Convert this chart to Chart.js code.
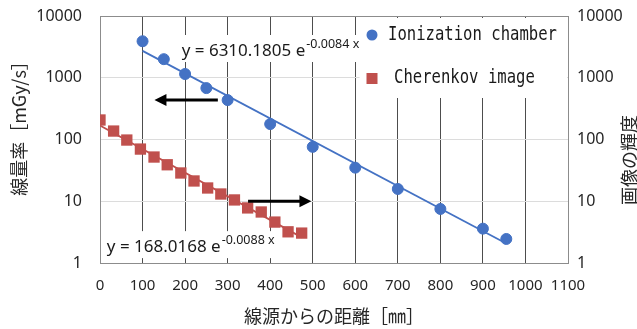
<!DOCTYPE html>
<html>
<head>
<meta charset="utf-8">
<script src="https://cdn.jsdelivr.net/npm/chart.js@4.4.1/dist/chart.umd.min.js"></script>
<style>
  html, body { margin: 0; padding: 0; background: #fff; }
  #wrap { width: 637px; height: 329px; position: relative; }
</style>
</head>
<body>
<div id="wrap"><canvas id="chart"></canvas></div>
<script>
// Ionization chamber (left axis, mGy/s)
const ionX = [100, 150, 200, 250, 300, 400, 500, 600, 700, 800, 900, 955];
const ionY = [3900, 2000, 1150, 680, 435, 178, 76, 35, 15.8, 7.5, 3.6, 2.45];
// Cherenkov image brightness (right axis)
const cherX = [0, 32, 63, 95, 127, 158, 190, 221, 253, 284, 316, 347, 379, 411, 442, 474];
const cherY = [207, 137, 98, 70, 52, 39, 28.7, 21.3, 16.4, 13.1, 10.5, 7.8, 6.7, 4.6, 3.2, 3.05];
// exponential trendlines (straight on the log axis), end points
const ionFitX = [100, 955];
const ionFitY = [2720, 2.07];
const cherFitX = [0, 474];
const cherFitY = [168, 2.6];

const yTicks = [1, 10, 100, 1000, 10000];
const ionEq = ["y = 6310.1805 e", "-0.0084 x"];
const cherEq = ["y = 168.0168 e", "-0.0088 x"];

const BLUE = "#4472C4";
const RED = "#C0504D";

const toPts = (xs, ys) => xs.map((x, i) => ({ x: x, y: ys[i] }));

function drawEq(ctx, px, py, eq) {
  ctx.font = '17px "Noto Sans"';
  const w1 = ctx.measureText(eq[0]).width;
  ctx.font = '12.5px "Noto Sans"';
  const w2 = ctx.measureText(eq[1]).width;
  ctx.fillStyle = "#fff";
  ctx.fillRect(px - 4, py - 21, w1 + w2 + 9, 27);
  ctx.fillStyle = "#1a1a1a";
  ctx.textAlign = "left";
  ctx.textBaseline = "alphabetic";
  ctx.font = '17px "Noto Sans"';
  ctx.fillText(eq[0], px, py);
  ctx.font = '12.5px "Noto Sans"';
  ctx.fillText(eq[1], px + w1 + 1, py - 8);
}

function drawArrow(ctx, x0, x1, y) {
  const dir = x1 > x0 ? 1 : -1;
  ctx.strokeStyle = "#000";
  ctx.fillStyle = "#000";
  ctx.lineWidth = 3;
  ctx.beginPath();
  ctx.moveTo(x0, y);
  ctx.lineTo(x1 - dir * 9, y);
  ctx.stroke();
  ctx.beginPath();
  ctx.moveTo(x1, y);
  ctx.lineTo(x1 - dir * 12, y - 6);
  ctx.lineTo(x1 - dir * 12, y + 6);
  ctx.closePath();
  ctx.fill();
}

const overlay = {
  id: "overlay",
  beforeDatasetsDraw(chart) {
    const { ctx, chartArea: a, scales: { x, y } } = chart;
    ctx.save();
    // legend box hides the grid behind it
    ctx.fillStyle = "#fff";
    const lx = x.getPixelForValue(610);
    ctx.fillRect(lx, a.top + 2, a.right - lx - 1, 80);
    drawEq(ctx, x.getPixelForValue(192), y.getPixelForValue(2250), ionEq);
    drawEq(ctx, x.getPixelForValue(16), y.getPixelForValue(1.5), cherEq);
    ctx.restore();
  },
  afterDatasetsDraw(chart) {
    const { ctx, chartArea: a, scales: { x, y } } = chart;
    ctx.save();
    // arrows pointing to each series' axis
    drawArrow(ctx, x.getPixelForValue(277), x.getPixelForValue(128), y.getPixelForValue(436));
    drawArrow(ctx, x.getPixelForValue(348), x.getPixelForValue(497), y.getPixelForValue(10));

    // legend
    const ds = chart.data.datasets;
    const mx = a.right - 196;
    ctx.fillStyle = ds[0].backgroundColor;
    ctx.beginPath();
    ctx.arc(mx, a.top + 19, 5.5, 0, Math.PI * 2);
    ctx.fill();
    ctx.fillStyle = ds[2].backgroundColor;
    ctx.fillRect(mx - 5.5, a.top + 57, 11, 11);
    ctx.fillStyle = "#1a1a1a";
    ctx.font = '15.6px "DejaVu Sans Mono"';
    ctx.textBaseline = "middle";
    ctx.textAlign = "left";
    const txt = (s, tx, ty) => {
      ctx.save();
      ctx.translate(tx, ty);
      ctx.scale(1, 1.3);
      ctx.fillText(s, 0, 0);
      ctx.restore();
    };
    txt(ds[0].label, mx + 16, a.top + 19);
    txt(ds[2].label, mx + 22, a.top + 62);
    ctx.restore();
  },
  afterDraw(chart) {
    const { ctx, chartArea: a } = chart;
    ctx.save();
    ctx.fillStyle = "#262626";
    ctx.textAlign = "center";
    ctx.textBaseline = "middle";
    ctx.font = '18px "Noto Sans CJK JP"';
    ctx.save();
    ctx.translate(19, 124);
    ctx.rotate(-Math.PI / 2);
    ctx.fillText("線量率［mGy/s］", 0, 0);
    ctx.restore();
    ctx.save();
    ctx.translate(629, 160);
    ctx.rotate(-Math.PI / 2);
    ctx.fillText("画像の輝度", 0, 0);
    ctx.restore();
    ctx.fillText("線源からの距離［㎜］", (a.left + a.right) / 2, 316);
    ctx.restore();
  }
};

const tickFont = { family: "Noto Sans", size: 16 };
const fitY = (w) => (s) => {
  s.width = w;
  s.paddingTop = 0;
  s.paddingBottom = 0;
};

new Chart(document.getElementById("chart"), {
  type: "scatter",
  data: {
    datasets: [
      {
        label: "Ionization chamber",
        data: toPts(ionX, ionY),
        yAxisID: "y",
        backgroundColor: BLUE,
        borderColor: BLUE,
        pointRadius: 5.5,
        pointStyle: "circle",
        order: 1
      },
      {
        label: "Ionization fit",
        data: toPts(ionFitX, ionFitY),
        yAxisID: "y",
        showLine: true,
        borderColor: BLUE,
        borderWidth: 1.8,
        pointRadius: 0,
        order: 2
      },
      {
        label: "Cherenkov image",
        data: toPts(cherX, cherY),
        yAxisID: "y2",
        backgroundColor: RED,
        borderColor: RED,
        pointStyle: "rect",
        pointRadius: 8,
        borderWidth: 0,
        order: 1
      },
      {
        label: "Cherenkov fit",
        data: toPts(cherFitX, cherFitY),
        yAxisID: "y2",
        showLine: true,
        borderColor: RED,
        borderWidth: 1.8,
        pointRadius: 0,
        order: 2
      }
    ]
  },
  options: {
    responsive: true,
    maintainAspectRatio: false,
    animation: false,
    layout: { padding: { top: 16, left: 0, right: 0, bottom: 0 } },
    plugins: { legend: { display: false }, tooltip: { enabled: false } },
    scales: {
      x: {
        type: "linear",
        min: 0,
        max: 1100,
        afterFit: (s) => { s.height = 66; s.paddingLeft = 0; s.paddingRight = 0; },
        ticks: {
          stepSize: 100,
          padding: 14,
          minRotation: 0,
          maxRotation: 0,
          autoSkip: false,
          color: "#262626",
          font: { family: "Noto Sans", size: 15 },
          callback: (v) => String(v)
        },
        grid: {
          drawTicks: false,
          color: (c) => (c.tick.value === 0 || c.tick.value === 1100 ? "#8c8c8c" : "#4d4d4d")
        },
        border: { color: "#8c8c8c" }
      },
      y: {
        type: "logarithmic",
        position: "left",
        min: 1,
        max: 10000,
        afterFit: fitY(100),
        afterBuildTicks: (s) => { s.ticks = yTicks.map((v) => ({ value: v })); },
        ticks: { padding: 18, color: "#262626", font: tickFont, callback: (v) => String(v) },
        grid: {
          drawTicks: false,
          color: (c) => (c.tick.value === 10000 ? "#8c8c8c" : "#dcdcdc")
        },
        border: { color: "#8c8c8c" }
      },
      y2: {
        type: "logarithmic",
        position: "right",
        min: 1,
        max: 10000,
        afterFit: fitY(69),
        afterBuildTicks: (s) => { s.ticks = yTicks.map((v) => ({ value: v })); },
        ticks: { padding: 9, color: "#262626", font: tickFont, callback: (v) => String(v) },
        grid: { display: false, drawTicks: false },
        border: { color: "#8c8c8c" }
      }
    }
  },
  plugins: [overlay]
});
</script>
</body>
</html>
